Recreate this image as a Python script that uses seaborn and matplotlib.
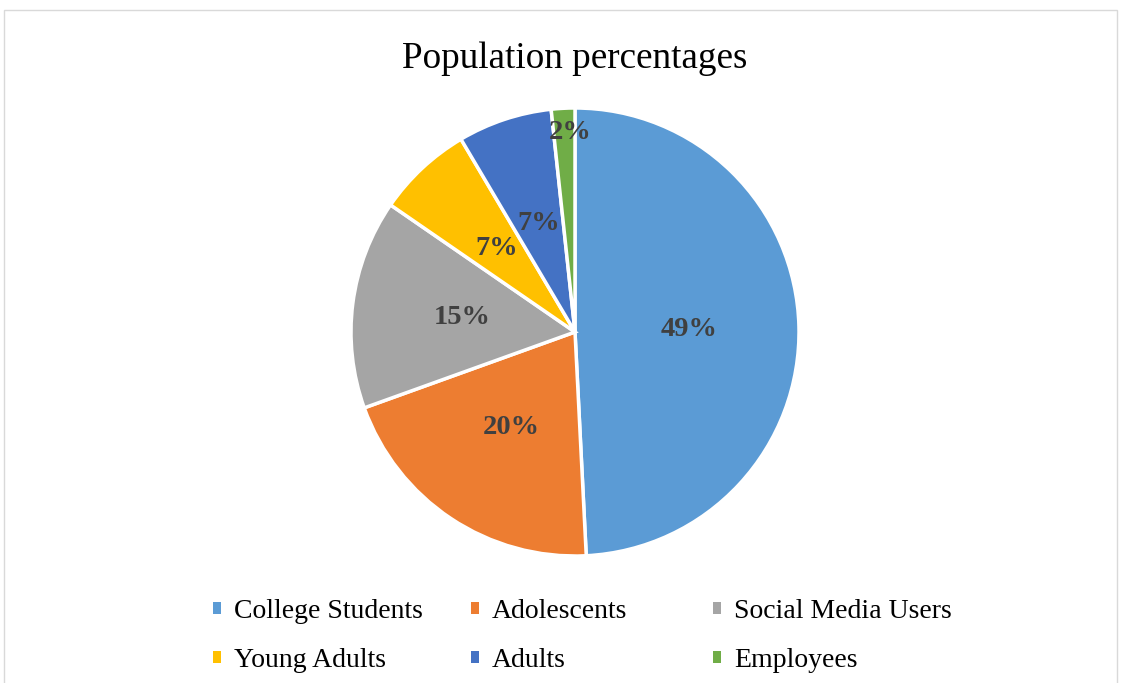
import matplotlib
matplotlib.use("Agg")
import matplotlib.pyplot as plt
import seaborn as sns
import numpy as np
from matplotlib.patches import Rectangle

sns.set_theme(style="white")
plt.rcParams['font.family'] = ['Liberation Serif', 'DejaVu Serif']
plt.rcParams['text.color'] = 'black'

title = "Population percentages"
categories = ["College Students", "Adolescents", "Social Media Users",
              "Young Adults", "Adults", "Employees"]
values = [49.2, 20.3, 15.1, 6.9, 6.8, 1.7]
colors = ["#5B9BD5", "#ED7D31", "#A5A5A5", "#FFC000", "#4472C4", "#70AD47"]

W, H = 1128, 683
fig = plt.figure(figsize=(W / 100, H / 100), dpi=100)
fig.patch.set_facecolor("white")
fig.patches.append(Rectangle((4 / W, -0.02), (1117 - 4) / W, 1.02 - 10 / H,
                             transform=fig.transFigure, fill=False,
                             edgecolor="#D9D9D9", linewidth=1.0, zorder=0))

R = 224
cx, cy = 575, 332
ax = fig.add_axes([(cx - R) / W, (H - cy - R) / H, 2 * R / W, 2 * R / H])
wedges, texts, autotexts = ax.pie(
    values, colors=colors, startangle=90, counterclock=False,
    autopct="%.0f%%", pctdistance=0.51,
    wedgeprops=dict(edgecolor="white", linewidth=2.5),
    textprops=dict(fontsize=20.5, fontweight="bold", color="#404040"))
ax.set_xlim(-1, 1)
ax.set_ylim(-1, 1)
ax.set_aspect("equal")

# smallest slice label sits further out, near the rim
w = wedges[-1]
mid = np.deg2rad((w.theta1 + w.theta2) / 2)
autotexts[-1].set_position((0.89 * np.cos(mid) + 0.025, 0.89 * np.sin(mid)))

fig.text(cx / W, 1 - 59 / H, title, ha="center", va="center",
         fontsize=26.7, color="black")

handles = [Rectangle((0, 0), 1, 1, facecolor=c, edgecolor="none") for c in colors]
col_x = [213, 471, 713]
for j, x in enumerate(col_x):
    leg = fig.legend(handles[j::3], categories[j::3], loc="center left", ncol=1,
                     bbox_to_anchor=(x / W, 1 - 636 / H), frameon=False,
                     fontsize=20, handlelength=0.3, handleheight=0.3,
                     handletextpad=0.45, labelspacing=0.85,
                     borderpad=0, borderaxespad=0, labelcolor="black")

fig.savefig("out.png", dpi=100)
